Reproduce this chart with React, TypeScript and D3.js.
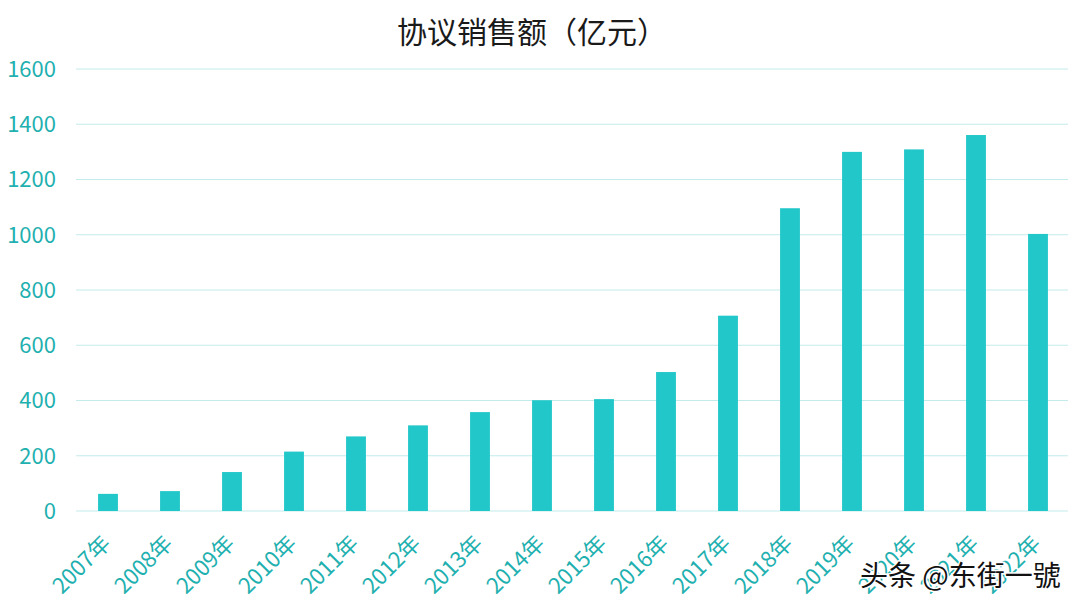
import React from "react";
import * as d3 from "d3";

const years = ["2007年","2008年","2009年","2010年","2011年","2012年","2013年","2014年","2015年","2016年","2017年","2018年","2019年","2020年","2021年","2022年"];
const sales = [62, 72, 141, 215, 270, 310, 358, 401, 405, 503, 707, 1096, 1300, 1309, 1361, 1003];
const yTicks = [0, 200, 400, 600, 800, 1000, 1200, 1400, 1600];
const title = "协议销售额（亿元）";
const watermark = "头条 @东街一號";

const W = 1080, H = 608;
const FONT = "'Noto Sans CJK SC', 'Noto Sans', sans-serif";

export default function App() {
  const x = d3.scaleBand<string>().domain(years).range([77, 1069]).paddingInner(0.68).paddingOuter(0.34);
  const y = d3.scaleLinear().domain([0, 1600]).range([511, 69]);
  return (
    <svg width={W} height={H} style={{ position: "absolute", left: 0, top: 0, background: "#fff" }} fontFamily={FONT}>
      <rect width={W} height={H} fill="#fff" />
      <text x={532} y={43} textAnchor="middle" fontSize={30} fill="#1a1a1a">{title}</text>
      {yTicks.map(t => (
        <g key={t}>
          <line x1={76} x2={1068} y1={y(t)} y2={y(t)} stroke="#c3ebec" strokeWidth={1} />
          <text x={56} y={y(t)} dy="0.36em" textAnchor="end" fontSize={22} fill="#1fb0b0">{t}</text>
        </g>
      ))}
      {years.map((yr, i) => (
        <rect key={yr} x={x(yr)} y={y(sales[i])} width={x.bandwidth()} height={y(0) - y(sales[i])} fill="#22c7c9" />
      ))}
      {years.map(yr => {
        const cx = (x(yr) as number) + x.bandwidth() / 2 + 4;
        const cy = 545;
        return (
          <text key={yr} x={cx} y={cy} transform={`rotate(-45 ${cx} ${cy})`} textAnchor="end" fontSize={22} fill="#1fb0b0">{yr}</text>
        );
      })}
      <text x={860} y={586} fontSize={28} fill="#111" stroke="#fff" strokeWidth={3} paintOrder="stroke">{watermark}</text>
    </svg>
  );
}
